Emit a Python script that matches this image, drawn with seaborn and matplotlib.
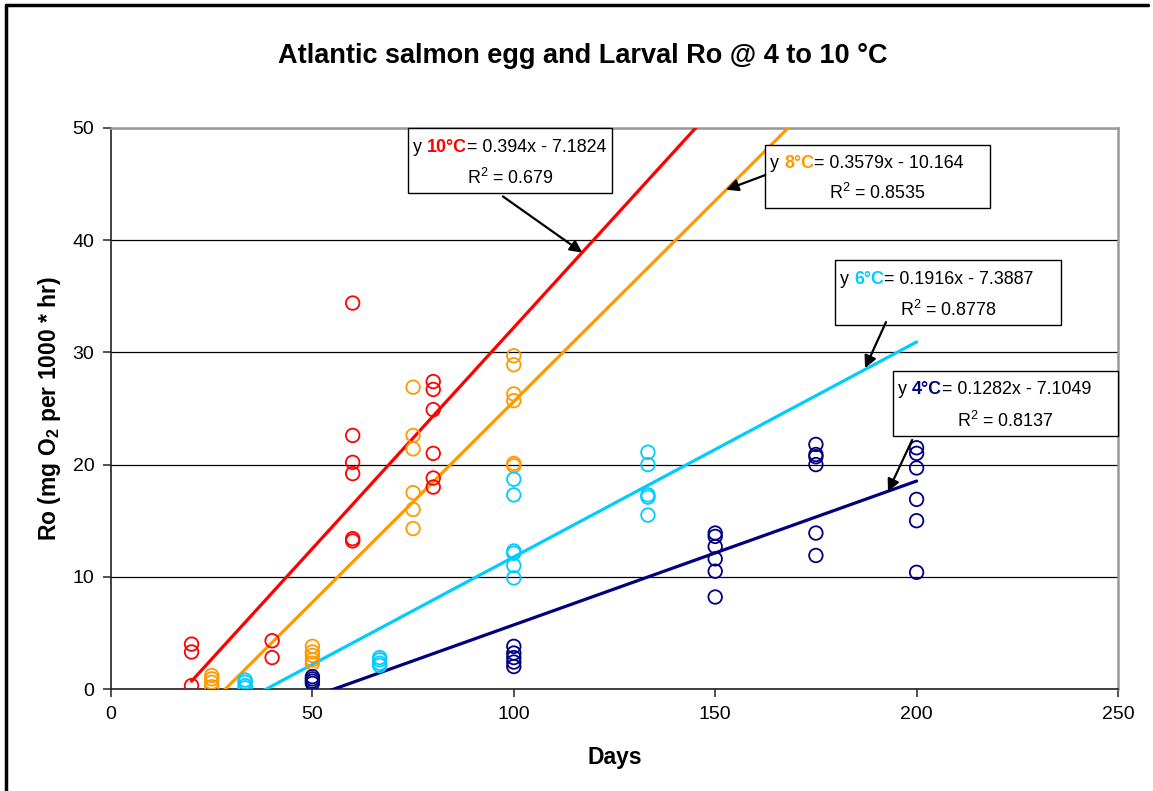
import numpy as np
import pandas as pd
import matplotlib
matplotlib.use("Agg")
import matplotlib.pyplot as plt
from matplotlib.patches import Rectangle
from matplotlib.lines import Line2D
import seaborn as sns

# Dados
dias_10 = [20, 20, 20, 40, 40, 60, 60, 60, 60, 60, 60, 80, 80, 80, 80, 80, 80]
ro_10 = [4.0, 3.3, 0.3, 4.3, 2.8, 34.4, 22.6, 20.2, 19.2, 13.4, 13.2, 27.4, 26.7, 24.9, 21.0, 18.8, 18.0]

dias_8 = [25, 25, 25, 25, 50, 50, 50, 50, 50, 75, 75, 75, 75, 75, 75, 100, 100, 100, 100, 100, 100]
ro_8 = [1.2, 0.9, 0.6, 0.2, 3.8, 3.3, 3.0, 2.6, 2.3, 26.9, 22.6, 21.4, 17.5, 16.0, 14.3, 29.7, 28.9, 26.3, 25.7, 20.1, 19.9]

dias_6 = [33.3] * 4 + [66.7] * 4 + [100] * 6 + [133.3] * 5
ro_6 = [0.8, 0.6, 0.3, 0.1, 2.8, 2.6, 2.3, 2.1, 18.7, 17.3, 12.3, 12.1, 11.0, 9.9, 21.1, 20.0, 17.3, 17.1, 15.5]

dias_4 = [50] * 4 + [100] * 5 + [150] * 6 + [175] * 6 + [200] * 6
ro_4 = [1.1, 0.9, 0.7, 0.5, 3.8, 3.2, 2.8, 2.4, 2.0, 13.9, 13.6, 12.7, 11.6, 10.5, 8.2,
        21.8, 20.9, 20.7, 20.0, 13.9, 11.9, 21.5, 21.0, 19.7, 16.9, 15.0, 10.4]

temperaturas = ['10°C', '8°C', '6°C', '4°C']
cores = ['#FF0000', '#FF9900', '#00CCFF', '#000080']
inclinacoes = [0.394, 0.3579, 0.1916, 0.1282]
interceptos = [-7.1824, -10.164, -7.3887, -7.1049]
r2 = ['0.679', '0.8535', '0.8778', '0.8137']
dia_final = 200

series = [(dias_10, ro_10), (dias_8, ro_8), (dias_6, ro_6), (dias_4, ro_4)]
df = pd.concat([pd.DataFrame({'dias': d, 'ro': r, 'temp': t})
                for (d, r), t in zip(series, temperaturas)], ignore_index=True)

sns.set_style("white")
plt.rcParams['font.family'] = ['Liberation Sans', 'DejaVu Sans']
plt.rcParams['text.color'] = 'black'
plt.rcParams['axes.labelcolor'] = 'black'
plt.rcParams['xtick.color'] = 'black'
plt.rcParams['ytick.color'] = 'black'
plt.rcParams['mathtext.fontset'] = 'custom'
plt.rcParams['mathtext.rm'] = 'Liberation Sans'
plt.rcParams['mathtext.bf'] = 'Liberation Sans:bold'
plt.rcParams['mathtext.it'] = 'Liberation Sans:italic'

W, H = 1153, 791
fig = plt.figure(figsize=(W / 100, H / 100), dpi=100)
ax = fig.add_axes([111 / W, 1 - 689 / H, (1118 - 111) / W, (689 - 128) / H])

# Linhas de tendência (equações do gráfico)
for t, cor, a, b in zip(temperaturas, cores, inclinacoes, interceptos):
    x0 = df.loc[df['temp'] == t, 'dias'].min()
    xs = np.array([x0, dia_final])
    ax.plot(xs, a * xs + b, color=cor, lw=2.3, zorder=3)

# Pontos experimentais
for t, cor in zip(temperaturas, cores):
    sub = df[df['temp'] == t]
    sns.scatterplot(data=sub, x='dias', y='ro', ax=ax, marker='o', s=95,
                    facecolor='none', edgecolor=cor, linewidth=1.3, zorder=4)

ax.set_xlim(0, 250)
ax.set_ylim(0, 50)
ax.set_xticks(range(0, 251, 50))
ax.set_yticks(range(0, 51, 10))
ax.yaxis.grid(True, color='black', lw=0.9)
ax.set_axisbelow(True)
for lado in ['top', 'right']:
    ax.spines[lado].set_color('#999999')
    ax.spines[lado].set_linewidth(1.8)
for lado in ['left', 'bottom']:
    ax.spines[lado].set_color('#222222')
    ax.spines[lado].set_linewidth(1.2)
ax.tick_params(axis='both', direction='out', length=6, width=1.1, color='#222222',
               labelcolor='black', labelsize=14, pad=6, left=True, bottom=True)
ax.set_xlabel('Days', fontsize=16.5, fontweight='bold', labelpad=17)
ax.set_ylabel(r'Ro (mg O$_\mathbf{2}$ per 1000 * hr)', fontsize=16.5, fontweight='bold', labelpad=7)

fig.text(583 / W, 1 - 56 / H, 'Atlantic salmon egg and Larval Ro @ 4 to 10 °C',
         ha='center', va='center', fontsize=19.5, fontweight='bold')

# Caixas com as equações
caixas = [(408, 128, 612, 193), (765, 145, 990, 208), (835, 260, 1061, 325), (893, 371, 1118, 436)]
for (x1, y1, x2, y2), t, cor, a, b, r in zip(caixas, temperaturas, cores, inclinacoes, interceptos, r2):
    ax.add_patch(Rectangle((x1 / W, 1 - y2 / H), (x2 - x1) / W, (y2 - y1) / H,
                           transform=fig.transFigure, facecolor='white', edgecolor='black',
                           lw=1.0, clip_on=False, zorder=6))
    t1 = ax.text((x1 + 5) / W, 1 - (y1 + 19) / H, 'y ', transform=fig.transFigure,
                 ha='left', va='center', fontsize=12.9, zorder=7)
    t2 = ax.annotate(t, xy=(1, 0), xycoords=t1, ha='left', va='bottom',
                     fontsize=12.9, fontweight='bold', color=cor, zorder=7)
    ax.annotate('= %gx - %g' % (a, -b), xy=(1, 0), xycoords=t2, ha='left', va='bottom',
                fontsize=12.9, zorder=7)
    ax.text((x1 + x2) / 2 / W, 1 - (y2 - 15) / H, r'R$^2$ = ' + r, transform=fig.transFigure,
            ha='center', va='center', fontsize=12.9, zorder=7)

# Setas
setas = [((97.3, 43.9), (117.0, 38.9)), ((162.4, 45.8), (152.7, 44.5)),
         ((192.4, 32.7), (187.2, 28.6)), ((198.9, 22.2), (192.9, 17.6))]
for cauda, ponta in setas:
    ax.annotate('', xy=ponta, xytext=cauda,
                arrowprops=dict(arrowstyle='-|>', color='black', lw=1.6, mutation_scale=18,
                                shrinkA=0, shrinkB=0), zorder=8)

# Moldura externa
fig.add_artist(Line2D([6 / W, 6 / W], [0, 1 - 5 / H], color='black', lw=2.5))
fig.add_artist(Line2D([6 / W, 1148 / W], [1 - 5 / H, 1 - 5 / H], color='black', lw=2.5))

fig.savefig('out.png', dpi=100)
